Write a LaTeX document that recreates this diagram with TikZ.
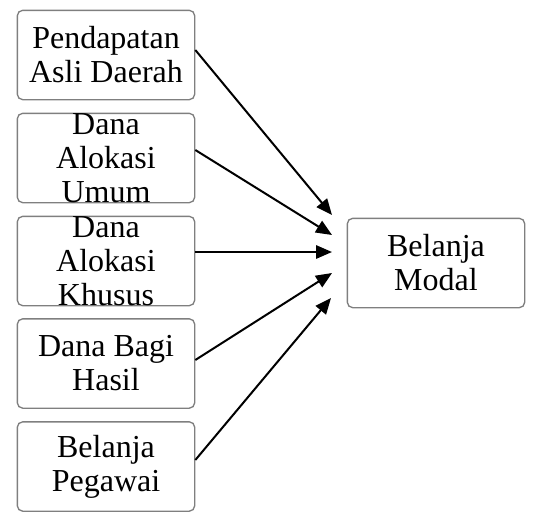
\documentclass[tikz,border=0pt]{standalone}
\usepackage{fontspec}
\setmainfont{Liberation Serif}
\usetikzlibrary{arrows.meta,positioning,calc}
\definecolor{boxline}{HTML}{7F7F7F}

\begin{document}
\begin{tikzpicture}[x=0.75pt,y=-0.75pt,
  box/.style={draw=boxline,line width=1pt,rounded corners=4pt,align=center,inner sep=0pt,
    minimum width=133pt,minimum height=67pt,font=\fontsize{24}{25.5}\selectfont},
  arrow/.style={-{Triangle[length=12pt,width=10pt]},line width=1.5pt,draw=black}
]
\useasboundingbox (0,0) rectangle (534,514);
\node[box] (pad) at (106,55) {Pendapatan\\Asli Daerah};
\node[box] (dau) at (106,158) {Dana\\Alokasi\\Umum};
\node[box] (dak) at (106,261) {Dana\\Alokasi\\Khusus};
\node[box] (dbh) at (106,363.5) {Dana Bagi\\Hasil};
\node[box] (peg) at (106,466.5) {Belanja\\Pegawai};
\node[box] (modal) at (436,263) {Belanja\\Modal};
\coordinate (inPad) at (332,215);
\coordinate (inDau) at (332,235);
\coordinate (inDak) at (332,252);
\coordinate (inDbh) at (332,273);
\coordinate (inPeg) at (331,298);
\draw[arrow] ($(pad.east)+(0,-5)$) -- (inPad);
\draw[arrow] ($(dau.east)+(0,-8)$) -- (inDau);
\draw[arrow] ($(dak.east)+(0,-9)$) -- (inDak);
\draw[arrow] ($(dbh.east)+(0,-3.5)$) -- (inDbh);
\draw[arrow] ($(peg.east)+(0,-6.5)$) -- (inPeg);
\end{tikzpicture}
\end{document}
